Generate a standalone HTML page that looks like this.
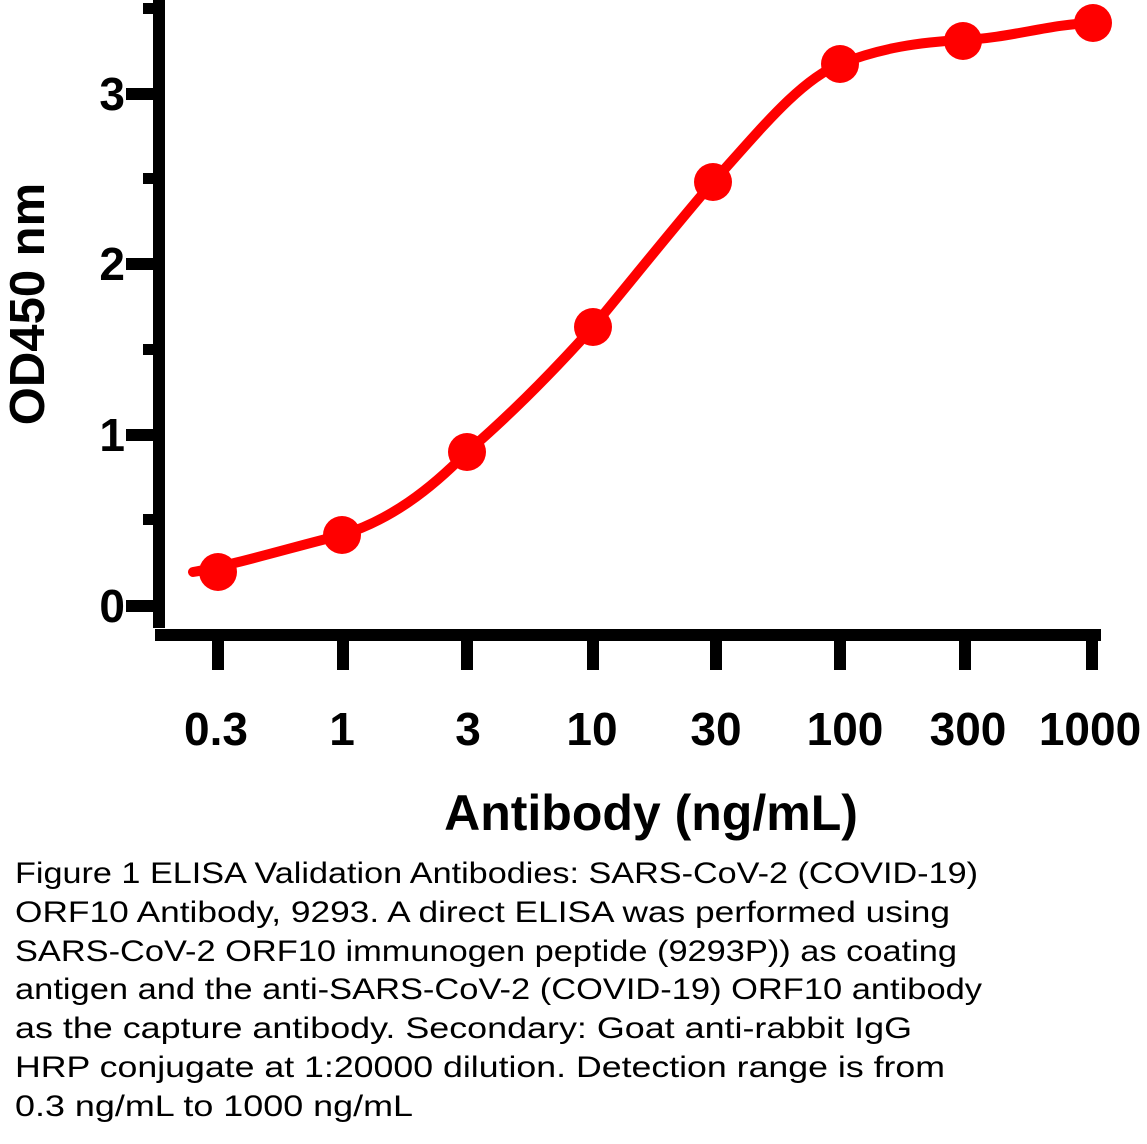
<!DOCTYPE html>
<html><head><style>body{margin:0;background:#fff}</style></head><body>
<svg width="1147" height="1139" viewBox="0 0 1147 1139" xmlns="http://www.w3.org/2000/svg">
<g fill="#000">
<rect x="153" y="0" width="12" height="628"/>
<rect x="126" y="88" width="33" height="12"/>
<rect x="126" y="258" width="33" height="12"/>
<rect x="126" y="429" width="33" height="12"/>
<rect x="126" y="600" width="33" height="12"/>
<rect x="143" y="3" width="16" height="11"/>
<rect x="143" y="173" width="16" height="11"/>
<rect x="143" y="344" width="16" height="11"/>
<rect x="143" y="514" width="16" height="11"/>
<rect x="155" y="629" width="946" height="12"/>
<rect x="212" y="641" width="12" height="29"/>
<rect x="337" y="641" width="12" height="29"/>
<rect x="461" y="641" width="12" height="29"/>
<rect x="587" y="641" width="12" height="29"/>
<rect x="710" y="641" width="12" height="29"/>
<rect x="834" y="641" width="12" height="29"/>
<rect x="959" y="641" width="12" height="29"/>
<rect x="1086" y="641" width="12" height="29"/>
</g>
<g font-family="Liberation Sans, Arial, sans-serif" font-weight="bold" font-size="46" fill="#000">
<text x="125" y="110" text-anchor="end">3</text>
<text x="125" y="280" text-anchor="end">2</text>
<text x="125" y="451" text-anchor="end">1</text>
<text x="125" y="622" text-anchor="end">0</text>
<g text-anchor="middle">
<text x="216" y="745">0.3</text>
<text x="342" y="745">1</text>
<text x="468" y="745">3</text>
<text x="592" y="745">10</text>
<text x="716" y="745">30</text>
<text x="845" y="745">100</text>
<text x="968" y="745">300</text>
<text x="1090" y="745">1000</text>
</g>
<text x="651" y="830" text-anchor="middle" font-size="50">Antibody (ng/mL)</text>
<text transform="translate(44,304) rotate(-90)" text-anchor="middle" font-size="49">OD450 nm</text>
</g>
<path d="M193,572 C230,566 300,545 342,535 C390,520 430,490 467,452 C510,415 550,375 593,327 C640,270 680,220 713,182 C760,130 800,80 840,64 C880,48 920,42 963,40 C1010,38 1050,24 1093,23" fill="none" stroke="#ff0000" stroke-width="10" stroke-linecap="round"/>
<g fill="#ff0000">
<circle cx="218" cy="572" r="19"/>
<circle cx="342" cy="535" r="19"/>
<circle cx="467" cy="452" r="19"/>
<circle cx="593" cy="327" r="19"/>
<circle cx="713" cy="182" r="19"/>
<circle cx="840" cy="64" r="19"/>
<circle cx="963" cy="41" r="19"/>
<circle cx="1093" cy="23" r="19"/>
</g>
<g font-family="Liberation Sans, Arial, sans-serif" font-size="30" fill="#000">
<text x="15" y="883" textLength="963" lengthAdjust="spacingAndGlyphs">Figure 1 ELISA Validation Antibodies: SARS-CoV-2 (COVID-19)</text>
<text x="15" y="922" textLength="935" lengthAdjust="spacingAndGlyphs">ORF10 Antibody, 9293. A direct ELISA was performed using</text>
<text x="15" y="961" textLength="942" lengthAdjust="spacingAndGlyphs">SARS-CoV-2 ORF10 immunogen peptide (9293P)) as coating</text>
<text x="15" y="999" textLength="967" lengthAdjust="spacingAndGlyphs">antigen and the anti-SARS-CoV-2 (COVID-19) ORF10 antibody</text>
<text x="15" y="1038" textLength="897" lengthAdjust="spacingAndGlyphs">as the capture antibody. Secondary: Goat anti-rabbit IgG</text>
<text x="15" y="1077" textLength="930" lengthAdjust="spacingAndGlyphs">HRP conjugate at 1:20000 dilution. Detection range is from</text>
<text x="15" y="1116" textLength="398" lengthAdjust="spacingAndGlyphs">0.3 ng/mL to 1000 ng/mL</text>
</g>
</svg>
</body></html>
